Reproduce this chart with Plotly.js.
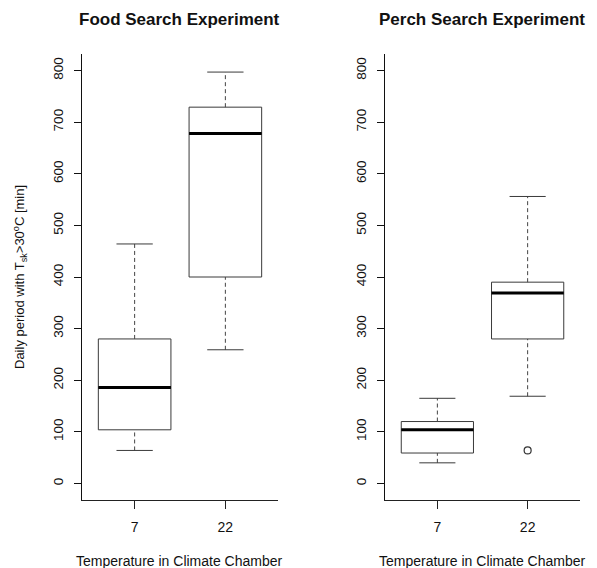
<!DOCTYPE html>
<html>
<head>
<meta charset="utf-8">
<script src="https://cdn.plot.ly/plotly-3.0.1.min.js"></script>
<style>
  html, body { margin: 0; padding: 0; background: #ffffff; }
  #chart { width: 597px; height: 568px; }
</style>
</head>
<body>
<div id="chart"></div>
<script>
// Chamber temperatures (group labels) and their positions on the x axis
const groups = ['7', '22'];
const groupPos = [1, 2];

// Food search experiment: box statistics per chamber temperature [min]
const foodLower  = [64, 259];
const foodQ1     = [104, 400];
const foodMedian = [186, 678];
const foodQ3     = [280, 729];
const foodUpper  = [464, 797];
const foodOutX   = [];
const foodOutY   = [];

// Perch search experiment: box statistics per chamber temperature [min]
const perchLower  = [40, 169];
const perchQ1     = [59, 280];
const perchMedian = [104, 369];
const perchQ3     = [120, 390];
const perchUpper  = [165, 556];
const perchOutX   = [2];
const perchOutY   = [64];

// y axis ticks
const yTicks = [0, 100, 200, 300, 400, 500, 600, 700, 800];

const BOX_HALF = 0.4;   // half of the box width (x units)
const CAP_HALF = 0.2;   // half of the whisker cap width
const lineCol = '#3a3a3a';

function panelTraces(lower, q1, med, q3, upper, outX, outY, xa, ya) {
  const traces = [];
  // box body (quartiles only; whiskers drawn dashed below)
  traces.push({
    type: 'box', x: groupPos, q1: q1, median: med, q3: q3,
    lowerfence: q1, upperfence: q3,
    width: 2 * BOX_HALF, whiskerwidth: 0, boxpoints: false,
    fillcolor: 'rgba(255,255,255,0)',
    line: { color: lineCol, width: 1 },
    xaxis: xa, yaxis: ya, hoverinfo: 'skip', showlegend: false
  });
  for (let i = 0; i < groupPos.length; i++) {
    const p = groupPos[i];
    // dashed whiskers
    traces.push({
      type: 'scatter', mode: 'lines',
      x: [p, p, null, p, p], y: [lower[i], q1[i], null, q3[i], upper[i]],
      line: { color: '#444', width: 1, dash: '4px,3px' },
      xaxis: xa, yaxis: ya, hoverinfo: 'skip', showlegend: false
    });
    // whisker caps
    traces.push({
      type: 'scatter', mode: 'lines',
      x: [p - CAP_HALF, p + CAP_HALF, null, p - CAP_HALF, p + CAP_HALF],
      y: [lower[i], lower[i], null, upper[i], upper[i]],
      line: { color: lineCol, width: 1 },
      xaxis: xa, yaxis: ya, hoverinfo: 'skip', showlegend: false
    });
    // heavy median bar
    traces.push({
      type: 'scatter', mode: 'lines',
      x: [p - BOX_HALF, p + BOX_HALF], y: [med[i], med[i]],
      line: { color: '#000', width: 3 },
      xaxis: xa, yaxis: ya, hoverinfo: 'skip', showlegend: false
    });
  }
  if (outX.length) {
    traces.push({
      type: 'scatter', mode: 'markers', x: outX, y: outY,
      marker: { symbol: 'circle-open', size: 7, color: '#333', line: { width: 1.2 } },
      xaxis: xa, yaxis: ya, hoverinfo: 'skip', showlegend: false
    });
  }
  return traces;
}

const data = [].concat(
  panelTraces(foodLower, foodQ1, foodMedian, foodQ3, foodUpper, foodOutX, foodOutY, 'x', 'y'),
  panelTraces(perchLower, perchQ1, perchMedian, perchQ3, perchUpper, perchOutX, perchOutY, 'x2', 'y2')
);

const W = 597, H = 568;
const fontFam = 'Liberation Sans, Arial, Helvetica, sans-serif';

function xAxis(l, r, anchor) {
  return {
    domain: [l / W, r / W], anchor: anchor,
    range: [0.42, 2.58], tickvals: groupPos, ticktext: groups,
    showline: true, linecolor: '#222', linewidth: 1,
    ticks: 'outside', ticklen: 8, tickcolor: '#222', tickwidth: 1,
    showgrid: false, zeroline: false, automargin: false,
    ticklabelstandoff: 6,
    tickfont: { family: fontFam, size: 14, color: '#111' }
  };
}
function yAxis(anchor) {
  return {
    domain: [1 - 500 / H, 1 - 54 / H], anchor: anchor,
    range: [-32, 832], tickvals: yTicks,
    showline: true, linecolor: '#111', linewidth: 1,
    ticks: 'outside', ticklen: 7, tickcolor: '#111', tickwidth: 1,
    tickangle: -90, ticklabelstandoff: 6,
    showgrid: false, zeroline: false, automargin: false,
    tickfont: { family: fontFam, size: 13.5, color: '#111' }
  };
}

const ann = (text, xpx, ypx, size, bold, angle) => ({
  xref: 'paper', yref: 'paper', x: xpx / W, y: 1 - ypx / H,
  xanchor: 'center', yanchor: 'middle', showarrow: false,
  text: text, textangle: angle || 0,
  font: { family: fontFam, size: size, color: '#111', weight: bold ? 'bold' : 'normal' }
});

const layout = {
  width: W, height: H,
  margin: { l: 0, r: 0, t: 0, b: 0 },
  paper_bgcolor: '#fff', plot_bgcolor: '#fff',
  showlegend: false,
  xaxis: xAxis(82, 278, 'y'),
  yaxis: yAxis('x'),
  xaxis2: xAxis(385, 580, 'y2'),
  yaxis2: yAxis('x2'),
  annotations: [
    ann('Food Search Experiment', 180, 20, 17, true),
    ann('Perch Search Experiment', 482, 20, 17, true),
    ann('Temperature in Climate Chamber', 180, 561, 14, false),
    ann('Temperature in Climate Chamber', 482, 561, 14, false),
    ann('Daily period with T<sub>sk</sub>>30<sup>o</sup>C [min]', 20, 277, 13, false, -90)
  ]
};

Plotly.newPlot('chart', data, layout, { displayModeBar: false, staticPlot: true });
</script>
</body>
</html>
